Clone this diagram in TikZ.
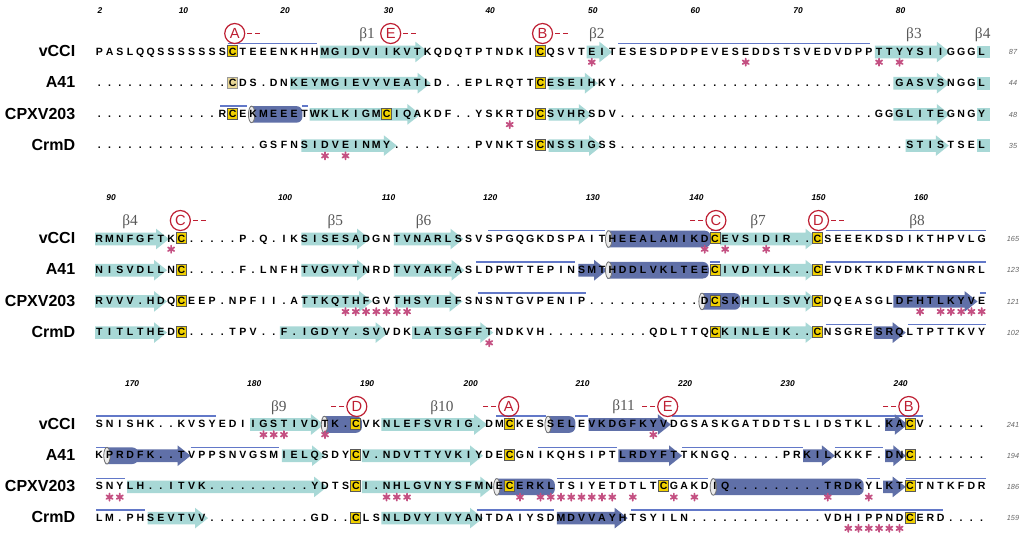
\documentclass[tikz,border=0pt]{standalone}
\usepackage{fontspec}
\setmainfont{Liberation Sans}
\newfontfamily\serifgr{Liberation Serif}
\definecolor{cyanS}{RGB}{168,216,214}
\definecolor{darkS}{RGB}{96,112,168}
\definecolor{blineC}{RGB}{98,120,200}
\definecolor{ycol}{RGB}{240,208,0}
\definecolor{ypale}{RGB}{232,214,150}
\definecolor{astC}{RGB}{196,80,130}
\definecolor{redC}{RGB}{190,30,50}
\pgfmathdeclarefunction{X}{1}{\pgfmathparse{99.3+10.26*(#1)}}
\tikzset{
  seqch/.style={anchor=base,inner sep=0pt,font=\fontsize{7.9}{8}\selectfont\bfseries},
  namelab/.style={anchor=east,inner sep=0pt,font=\fontsize{12}{12}\selectfont\bfseries},
  rulerlab/.style={inner sep=0pt,font=\fontsize{6.3}{6.3}\selectfont\bfseries\itshape},
  endnum/.style={inner sep=0pt,text=black!60,font=\fontsize{5.5}{6}\selectfont\itshape},
  betalab/.style={inner sep=0pt,text=black!65,font=\serifgr\fontsize{11.5}{11.5}\selectfont},
  circlab/.style={circle,draw=redC,line width=0.9pt,minimum size=15pt,inner sep=0pt,text=redC,font=\fontsize{11}{11}\selectfont},
  blineS/.style={draw=blineC,line width=1.1pt},
  dashS/.style={draw=redC,line width=1.1pt},
  astS/.style={draw=astC,line width=1.3pt,line cap=round}
}
\newcount\colc
\newcommand\seqrow[3]{\colc=0 \def\rowid{#1}\def\rowbase{#2}\seqnext#3\relax}
\def\seqnext#1{%
  \ifx#1\relax\let\nextseq\relax\else
    \pgfmathsetmacro\xx{99.3+10.26*\the\colc}%
    \node[seqch] (\rowid-\the\colc) at (\xx,\rowbase) {#1};%
    \advance\colc by 1
    \let\nextseq\seqnext
  \fi\nextseq}
% strand arrow: #1 colour, #2 row centre, #3 left (u), #4 tip (u)
\newcommand\strandS[4][cyanS]{%
  \pgfmathsetmacro\xa{X(#3)}\pgfmathsetmacro\xb{X(#4)}%
  \pgfmathsetmacro\hl{min(13,0.6*(\xb-\xa))}%
  \pgfmathsetmacro\yc{#2+0.8}%
  \fill[#1] (\xa,\yc-6.3) -- (\xb-\hl,\yc-6.3) -- (\xb-\hl,\yc-10.3) -- (\xb,\yc) -- (\xb-\hl,\yc+10.3) -- (\xb-\hl,\yc+6.3) -- (\xa,\yc+6.3) -- cycle;}
\newcommand\darrS[3]{\strandS[darkS]{#1}{#2}{#3}}
\newcommand\cboxS[3]{\fill[cyanS] ({X(#2)},#1+0.8-6.3) rectangle ({X(#3)},#1+0.8+6.3);}
\newcommand\helixS[3]{%
  \pgfmathsetmacro\xa{X(#2)}\pgfmathsetmacro\xb{X(#3)}\pgfmathsetmacro\yc{#1+0.8}%
  \fill[darkS] (\xa,\yc-8.3) [rounded corners=4.5pt] -- (\xb,\yc-8.3) -- (\xb,\yc+8.3) [sharp corners] -- (\xa,\yc+8.3) -- cycle;
  \filldraw[fill=black!8,draw=black!55,line width=0.6pt] (\xa+1.5,\yc) ellipse [x radius=3.2,y radius=8.3];}
\newcommand\blineS[3]{\draw[blineS] ({X(#2)},#1-7.5) -- ({X(#3)},#1-7.5);}
\newcommand\cysS[2]{\filldraw[fill=ycol,draw=black!65,line width=0.5pt] ({X(#2)-5},#1-5.4) rectangle ({X(#2)+5},#1+5.6);}
\newcommand\astX[2]{\draw[astS,shift={({X(#2)},#1+11)}] (90:3.6) -- (270:3.6) (30:3.6) -- (210:3.6) (150:3.6) -- (330:3.6);}
\newcommand\asts[2]{\foreach \u in {#2}{\astX{#1}{\u}}}
\newcommand\circR[4]{\node[circlab] (#1) at ({X(#3)},#2) {#4};
  \draw[dashS] ({X(#3)+12.5},#2) -- ++(5,0) ({X(#3)+20.5},#2) -- ++(5,0);}
\newcommand\circL[4]{\node[circlab] (#1) at ({X(#3)},#2) {#4};
  \draw[dashS] ({X(#3)-12.5},#2) -- ++(-5,0) ({X(#3)-20.5},#2) -- ++(-5,0);}
\newcommand\rulerS[3]{\foreach \n/\u in {#3}{\node[rulerlab] (#1\n) at ({X(\u)},#2) {\n};}}
\begin{document}
\begin{tikzpicture}[x=0.75pt,y=-0.75pt]
\useasboundingbox (0,0) rectangle (1024,537);
\fill[white] (0,0) rectangle (1024,537);
% ================= BLOCK 1 =================
% vCCI c=51.2
\blineS{51.2}{12.5}{21.25}
\strandS{51.2}{21.5}{32.07}
\strandS{51.2}{47.5}{50.0}
\blineS{51.2}{50.6}{75.1}
\strandS{51.2}{75.6}{82.9}
\cboxS{51.2}{85.5}{86.8}
\cysS{51.2}{13}\cysS{51.2}{43}
% A41 c=82.4
\strandS{82.4}{18.6}{32.3}
\strandS{82.4}{43.8}{48.6}
\strandS{82.4}{77.4}{82.9}
\cboxS{82.4}{85.5}{86.8}
\filldraw[fill=ypale,draw=black!40,line width=0.5pt] ({X(13)-5},82.4-5.4) rectangle ({X(13)+5},82.4+5.6);
\cysS{82.4}{43}
% CPXV203 c=113.6
\blineS{113.6}{11.8}{14.4}
\helixS{113.6}{14.7}{19.8}
\blineS{113.6}{19.8}{20.3}
\strandS{113.6}{20.5}{31.3}
\strandS{113.6}{43.8}{48.0}
\strandS{113.6}{77.4}{82.9}
\cboxS{113.6}{85.5}{86.8}
\cysS{113.6}{13}\cysS{113.6}{28}\cysS{113.6}{43}
% CrmD c=144.8
\strandS{144.8}{19.7}{29.0}
\strandS{144.8}{43.8}{49.0}
\strandS{144.8}{78.6}{82.8}
\cboxS{144.8}{85.5}{86.8}
\cysS{144.8}{43}
\seqrow{a1}{55}{PASLQQSSSSSSSCTEEENKHHMGIDVIIKVTKQDQTPTNDKICQSVTEITESESDPDPEVESEDDSTSVEDVDPPTTYYSIIGGGL}
\seqrow{a2}{86.2}{.............CDS.DNKEYMGIEVYVEATLD..EPLRQTTCESEIHKY...........................GASVSNGGL}
\seqrow{a3}{117.4}{............RCEKMEEETWKLKIGMCIQAKDF..YSKRTDCSVHRSDV.........................GGGLITEGNGY}
\seqrow{a4}{148.6}{................GSFNSIDVEINMY........PVNKTSCNSSIGSS............................STISTSEL}
\asts{51.2}{48,63,76,78}
\asts{113.6}{40}
\asts{144.8}{22,24}
\rulerS{ra}{10.7}{2/0.07,10/8.2,20/18.1,30/28.2,40/38.1,50/48.1,60/58.1,70/68.1,80/78.1}
\node[betalab] (b1) at ({X(26.1)},35) {β1};
\node[betalab] (b2) at ({X(48.5)},35) {β2};
\node[betalab] (b3) at ({X(79.4)},35) {β3};
\node[betalab] (b4) at ({X(86.1)},35) {β4};
\circR{cA1}{33.5}{13.2}{A}
\circR{cE1}{33.5}{28.4}{E}
\circR{cB1}{33.5}{43.2}{B}
\node[namelab] (n11) at (75.5,51.2) {vCCI};
\node[namelab] (n12) at (75.5,82.4) {A41};
\node[namelab] (n13) at (75.5,113.6) {CPXV203};
\node[namelab] (n14) at (75.5,144.8) {CrmD};
\node[endnum] (e11) at (1013,52.2) {87};
\node[endnum] (e12) at (1013,83.4) {44};
\node[endnum] (e13) at (1013,114.6) {48};
\node[endnum] (e14) at (1013,145.8) {35};
% ================= BLOCK 2 =================
% vCCI c=238.2
\strandS{238.2}{-0.4}{6.8}
\strandS{238.2}{19.7}{26.4}
\strandS{238.2}{28.7}{35.5}
\blineS{238.2}{37.9}{49.3}
\helixS{238.2}{49.5}{59.6}
\blineS{238.2}{59.6}{60.5}
\strandS{238.2}{60.5}{70.1}
\blineS{238.2}{70.8}{86.4}
\cysS{238.2}{8}\cysS{238.2}{60}\cysS{238.2}{70}
% A41 c=269.4
\strandS{269.4}{-0.4}{6.6}
\strandS{269.4}{19.7}{26.4}
\strandS{269.4}{28.7}{35.6}
\blineS{269.4}{36.7}{46.4}
\darrS{269.4}{46.7}{49.5}
\helixS{269.4}{49.5}{59.4}
\blineS{269.4}{59.5}{60.5}
\strandS{269.4}{60.5}{70.1}
\blineS{269.4}{70.8}{86.4}
\cysS{269.4}{8}\cysS{269.4}{60}\cysS{269.4}{70}
% CPXV203 c=300.6
\strandS{300.6}{-0.4}{6.6}
\strandS{300.6}{19.8}{26.6}
\strandS{300.6}{28.8}{35.4}
\blineS{300.6}{36.9}{47.4}
\helixS{300.6}{58.6}{62.5}
\strandS{300.6}{62.5}{70.1}
\darrS{300.6}{77.4}{85.6}
\blineS{300.6}{85.8}{86.4}
\cysS{300.6}{8}\cysS{300.6}{60}\cysS{300.6}{70}
% CrmD c=331.8
\strandS{331.8}{-0.4}{6.6}
\strandS{331.8}{17.6}{28.2}
\strandS{331.8}{30.5}{38.4}
\strandS{331.8}{60.5}{70.1}
\blineS{331.8}{70.8}{75.3}
\darrS{331.8}{75.5}{78.6}
\blineS{331.8}{78.8}{86.4}
\cysS{331.8}{8}\cysS{331.8}{60}\cysS{331.8}{70}
\seqrow{b1}{242}{RMNFGFTKC.....P.Q.IKSISESADGNTVNARLSSVSPGQGKDSPAITHEEALAMIKDCEVSIDIR..CSEEEKDSDIKTHPVLG}
\seqrow{b2}{273.2}{NISVDLLNC.....F.LNFHTVGVYTNRDTVYAKFASLDPWTTEPINSMTHDDLVKLTEECIVDIYLK..CEVDKTKDFMKTNGNRL}
\seqrow{b3}{304.4}{RVVV.HDQCEEP.NPFII.ATTKQTHFGVTHSYIEFSNSNTGVPENIP...........DCSKHILISVYCDQEASGLDFHTLKYVE}
\seqrow{b4}{335.6}{TITLTHEDC....TPV..F.IGDYY.SVVDKLATSGFFTNDKVH..........QDLTTQCKINLEIK..CNSGRESRQLTPTTKVY}
\asts{238.2}{7,59,61,65}
\asts{300.6}{24,25,26,27,28,29,30,80,82,83,84,85,86}
\asts{331.8}{38}
\rulerS{rb}{197.7}{90/1.15,100/18.1,110/28.2,120/38.1,130/48.1,140/58.2,150/70.1,160/80.1}
\node[betalab] (b5) at ({X(3)},222) {β4};
\node[betalab] (b6) at ({X(23)},222) {β5};
\node[betalab] (b7) at ({X(31.6)},222) {β6};
\node[betalab] (b8) at ({X(64.2)},222) {β7};
\node[betalab] (b9) at ({X(79.7)},222) {β8};
\circR{cC1}{220.5}{7.9}{C}
\circL{cC2}{220.5}{60.1}{C}
\circR{cD1}{220.5}{70.1}{D}
\node[namelab] (n21) at (75.5,238.2) {vCCI};
\node[namelab] (n22) at (75.5,269.4) {A41};
\node[namelab] (n23) at (75.5,300.6) {CPXV203};
\node[namelab] (n24) at (75.5,331.8) {CrmD};
\node[endnum] (e21) at (1013,239.2) {165};
\node[endnum] (e22) at (1013,270.4) {123};
\node[endnum] (e23) at (1013,301.6) {121};
\node[endnum] (e24) at (1013,332.8) {102};
% ================= BLOCK 3 =================
% vCCI c=423.7
\blineS{423.7}{-0.3}{11.4}
\strandS{423.7}{14.7}{21.9}
\helixS{423.7}{21.8}{25.6}
\strandS{423.7}{27.5}{37.8}
\blineS{423.7}{38.7}{43.5}
\helixS{423.7}{43.6}{46.4}
\blineS{423.7}{46.4}{47.6}
\darrS{423.7}{47.7}{55.7}
\blineS{423.7}{55.8}{80.3}
\darrS{423.7}{76.6}{78.8}
\cysS{423.7}{25}\cysS{423.7}{40}\cysS{423.7}{79}
% A41 c=454.9
\blineS{454.9}{-0.3}{0.8}
\darrS{454.9}{3.3}{8.9}
\helixS{454.9}{0.6}{3.8}
\blineS{454.9}{8.9}{17.5}
\strandS{454.9}{17.8}{22.0}
\strandS{454.9}{25.6}{37.4}
\blineS{454.9}{42.8}{50.5}
\darrS{454.9}{50.6}{56.8}
\blineS{454.9}{56.8}{68.6}
\darrS{454.9}{68.6}{71.7}
\blineS{454.9}{71.7}{76.4}
\darrS{454.9}{76.6}{78.6}
\cysS{454.9}{25}\cysS{454.9}{40}\cysS{454.9}{79}
% CPXV203 c=486.1
\blineS{486.1}{-0.3}{2.5}
\strandS{486.1}{2.7}{22.2}
\strandS{486.1}{25.6}{38.4}
\helixS{486.1}{38.6}{44.4}
\blineS{486.1}{44.6}{59.3}
\helixS{486.1}{59.7}{74.5}
\blineS{486.1}{74.8}{76.1}
\darrS{486.1}{76.4}{78.6}
\blineS{486.1}{78.6}{86.4}
\cysS{486.1}{25}\cysS{486.1}{40}\cysS{486.1}{55}\cysS{486.1}{79}
% CrmD c=517.3
\blineS{517.3}{-0.3}{4.5}
\strandS{517.3}{4.7}{10.6}
\strandS{517.3}{27.5}{37.4}
\blineS{517.3}{36.8}{44.3}
\darrS{517.3}{44.6}{51.5}
\blineS{517.3}{51.8}{82.2}
\cysS{517.3}{25}\cysS{517.3}{79}
\seqrow{c1}{427.5}{SNISHK..KVSYEDIIGSTIVDTK.CVKNLEFSVRIG.DMCKESSELEVKDGFKYVDGSASKGATDDTSLIDSTKL.KACV......}
\seqrow{c2}{458.7}{KPRDFK..TVPPSNVGSMIELQSDYCV.NDVTTYVKIYDECGNIKQHSIPTLRDYFTTKNGQ.....PRKILKKKF.DNC.......}
\seqrow{c3}{489.9}{SNYLH..ITVK..........YDTSCI.NHLGVNYSFMNECERKLTSIYETDTLTCGAKDIQ.........TRDKYLKTCTNTKFDR}
\seqrow{c4}{521.1}{LM.PHSEVTVV..........GD..CLSNLDVYIVYANTDAIYSDMDVVAYHTSYILN.............VDHIPPNDCERD....}
\asts{423.7}{16,17,18,22,54}
\asts{486.1}{1,2,28,29,30,41,43,44,45,46,47,48,49,50,52,56,58,71,75}
\asts{517.3}{73,74,75,76,77,78}
\rulerS{rc}{383.2}{170/3.2,180/15.1,190/26.1,200/36.2,210/47.1,220/57.1,230/67.1,240/78.1}
\node[betalab] (b10) at ({X(17.5)},407.5) {β9};
\node[betalab] (b11) at ({X(33.4)},407.5) {β10};
\node[betalab] (b12) at ({X(51.1)},406.5) {β11};
\circL{cD2}{406.5}{25.1}{D}
\circL{cA2}{406.5}{39.9}{A}
\circL{cE2}{406.5}{55.4}{E}
\circL{cB2}{406.5}{78.9}{B}
\node[namelab] (n31) at (75.5,423.7) {vCCI};
\node[namelab] (n32) at (75.5,454.9) {A41};
\node[namelab] (n33) at (75.5,486.1) {CPXV203};
\node[namelab] (n34) at (75.5,517.3) {CrmD};
\node[endnum] (e31) at (1013,424.7) {241};
\node[endnum] (e32) at (1013,455.9) {194};
\node[endnum] (e33) at (1013,487.1) {186};
\node[endnum] (e34) at (1013,518.3) {159};
\end{tikzpicture}
\end{document}
